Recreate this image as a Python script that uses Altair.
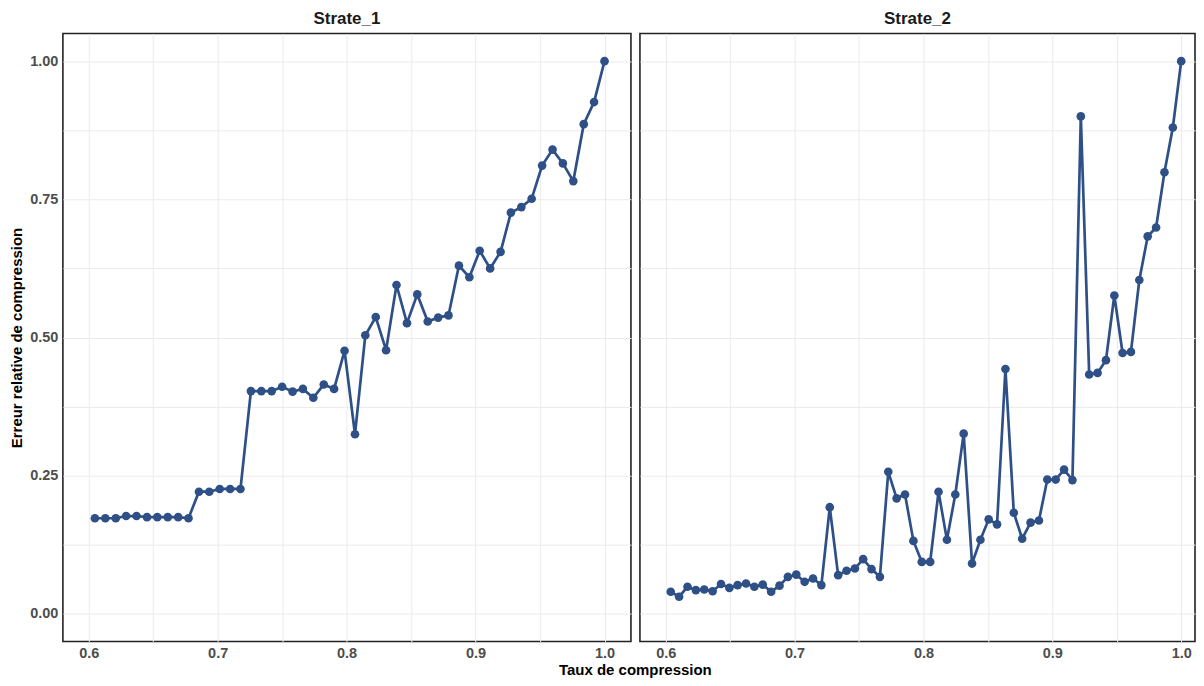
import altair as alt
import pandas as pd

strates = ["Strate_1", "Strate_2"]

x_strate1 = [0.6048, 0.6129, 0.6210, 0.6290, 0.6371, 0.6452, 0.6532, 0.6613, 0.6694, 0.6774,
             0.6855, 0.6935, 0.7016, 0.7097, 0.7177, 0.7258, 0.7339, 0.7419, 0.7500, 0.7581,
             0.7661, 0.7742, 0.7823, 0.7903, 0.7984, 0.8065, 0.8145, 0.8226, 0.8306, 0.8387,
             0.8468, 0.8548, 0.8629, 0.8710, 0.8790, 0.8871, 0.8952, 0.9032, 0.9113, 0.9194,
             0.9274, 0.9355, 0.9435, 0.9516, 0.9597, 0.9677, 0.9758, 0.9839, 0.9919, 1.0]
y_strate1 = [0.173, 0.173, 0.173, 0.177, 0.177, 0.175, 0.175, 0.175, 0.175, 0.173,
             0.221, 0.221, 0.226, 0.226, 0.226, 0.403, 0.403, 0.403, 0.411, 0.402,
             0.407, 0.391, 0.415, 0.407, 0.476, 0.325, 0.504, 0.537, 0.477, 0.595,
             0.526, 0.578, 0.529, 0.536, 0.540, 0.630, 0.609, 0.657, 0.625, 0.655,
             0.726, 0.736, 0.751, 0.811, 0.840, 0.815, 0.783, 0.886, 0.926, 1.000]

x_strate2 = [0.6039, 0.6104, 0.6169, 0.6234, 0.6299, 0.6364, 0.6429, 0.6494, 0.6558, 0.6623,
             0.6688, 0.6753, 0.6818, 0.6883, 0.6948, 0.7013, 0.7078, 0.7143, 0.7208, 0.7273,
             0.7338, 0.7403, 0.7468, 0.7532, 0.7597, 0.7662, 0.7727, 0.7792, 0.7857, 0.7922,
             0.7987, 0.8052, 0.8117, 0.8182, 0.8247, 0.8312, 0.8377, 0.8442, 0.8506, 0.8571,
             0.8636, 0.8701, 0.8766, 0.8831, 0.8896, 0.8961, 0.9026, 0.9091, 0.9156, 0.9221,
             0.9286, 0.9351, 0.9416, 0.9481, 0.9545, 0.9610, 0.9675, 0.9740, 0.9805, 0.9870,
             0.9935, 1.0]
y_strate2 = [0.040, 0.031, 0.049, 0.043, 0.044, 0.041, 0.054, 0.047, 0.052, 0.055,
             0.049, 0.053, 0.040, 0.051, 0.067, 0.071, 0.058, 0.064, 0.052, 0.193,
             0.070, 0.078, 0.082, 0.099, 0.081, 0.067, 0.257, 0.209, 0.216, 0.132,
             0.094, 0.094, 0.221, 0.134, 0.216, 0.326, 0.091, 0.134, 0.171, 0.162,
             0.443, 0.183, 0.136, 0.165, 0.169, 0.243, 0.243, 0.261, 0.242, 0.900,
             0.433, 0.436, 0.459, 0.576, 0.472, 0.474, 0.604, 0.683, 0.699, 0.799,
             0.880, 1.000]

x_grid_values = [0.6, 0.65, 0.7, 0.75, 0.8, 0.85, 0.9, 0.95, 1.0]
y_grid_values = [0.0, 0.125, 0.25, 0.375, 0.5, 0.625, 0.75, 0.875, 1.0]

df1 = pd.DataFrame({"taux": x_strate1, "erreur": y_strate1})
df2 = pd.DataFrame({"taux": x_strate2, "erreur": y_strate2})

COLOR = "#2E5087"
FONT = "Liberation Sans"
X_LABELS = "abs(datum.value*10 - round(datum.value*10)) < 0.001 ? format(datum.value, '.1f') : ''"
Y_LABELS = "abs(datum.value*4 - round(datum.value*4)) < 0.001 ? format(datum.value, '.2f') : ''"


def panel(df, name, x_max, width, first):
    x_enc = alt.X("taux:Q",
                  scale=alt.Scale(domain=[0.58, x_max], nice=False, zero=False),
                  axis=alt.Axis(values=x_grid_values, labelExpr=X_LABELS, title=None))
    if first:
        y_axis = alt.Axis(values=y_grid_values, labelExpr=Y_LABELS,
                          title="Erreur relative de compression")
    else:
        y_axis = alt.Axis(values=y_grid_values, labels=False, title=None)
    y_enc = alt.Y("erreur:Q", scale=alt.Scale(domain=[-0.05, 1.05], nice=False, zero=False),
                  axis=y_axis)
    base = alt.Chart(df)
    line = base.mark_line(color=COLOR, strokeWidth=2.7).encode(x=x_enc, y=y_enc)
    pts = base.mark_circle(color=COLOR, size=75, opacity=1).encode(x=x_enc, y=y_enc)
    return alt.layer(line, pts).properties(
        width=width, height=609,
        title=alt.TitleParams(name, fontSize=17, fontWeight="bold", font=FONT,
                              color="#1a1a1a", anchor="middle", offset=6),
    )


p1 = panel(df1, strates[0], 1.0205, 569, True)
p2 = panel(df2, strates[1], 1.0107, 556, False)

chart = alt.hconcat(p1, p2, spacing=7).properties(
    title=alt.TitleParams("Taux de compression", orient="bottom", anchor="middle",
                          fontSize=15, fontWeight="bold", font=FONT, color="#000000",
                          offset=2, dx=33),
    padding={"left": 0, "top": 0, "right": 0, "bottom": 0},
).configure_view(
    stroke="#222222", strokeWidth=1.6
).configure_axis(
    grid=True, gridColor="#EBEBEB", gridWidth=1, ticks=False, domain=False,
    labelFont=FONT, labelFontSize=14.5, labelFontWeight="bold", labelColor="#4D4D4D",
    labelPadding=5, titleFont=FONT, titleFontSize=15, titleFontWeight="bold",
    titleColor="#000000", titlePadding=5,
)

chart.save("out.html", embed_options={"renderer": "svg", "actions": False})
